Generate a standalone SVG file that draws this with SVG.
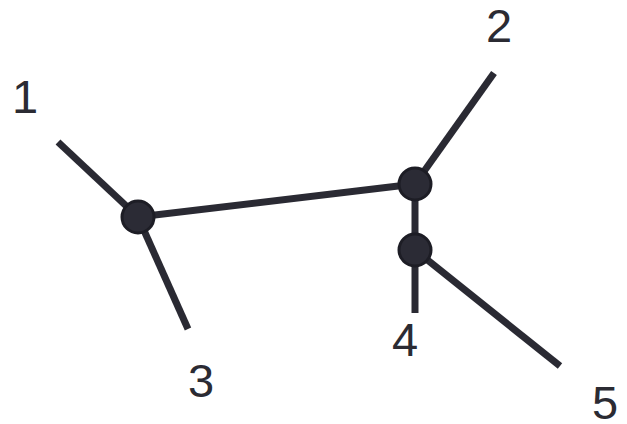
<svg xmlns="http://www.w3.org/2000/svg" width="627" height="424" viewBox="0 0 627 424">
<style>
.edge{stroke:#2a2a33;stroke-width:7;stroke-linecap:butt;fill:none}
.junction{fill:#2b2b35;stroke:#1d1d25;stroke-width:3}
.label{font-family:"Liberation Sans",Arial,sans-serif;font-size:47px;fill:#2b2b33;text-anchor:middle}
</style>
<rect width="627" height="424" fill="#ffffff"/>
<g id="connectors">
<line class="edge" x1="58" y1="142" x2="138" y2="217"/>
<line class="edge" x1="138" y1="217" x2="188" y2="329"/>
<line class="edge" x1="138" y1="217" x2="415" y2="184"/>
<line class="edge" x1="415" y1="184" x2="494" y2="73"/>
<line class="edge" x1="415" y1="184" x2="415" y2="250"/>
<line class="edge" x1="415" y1="250" x2="415" y2="313"/>
<line class="edge" x1="415" y1="250" x2="560" y2="366"/>
</g>
<g id="n1"><text class="label" x="25" y="113">1</text></g>
<g id="n2"><text class="label" x="499" y="42">2</text></g>
<g id="n3"><text class="label" x="201" y="397">3</text></g>
<g id="n4"><text class="label" x="405" y="356">4</text></g>
<g id="n5"><text class="label" x="605" y="419">5</text></g>
<g id="j1"><circle class="junction" cx="138" cy="217" r="16"/></g>
<g id="j2"><circle class="junction" cx="415" cy="184" r="16"/></g>
<g id="j3"><circle class="junction" cx="415" cy="250" r="16"/></g>
</svg>
